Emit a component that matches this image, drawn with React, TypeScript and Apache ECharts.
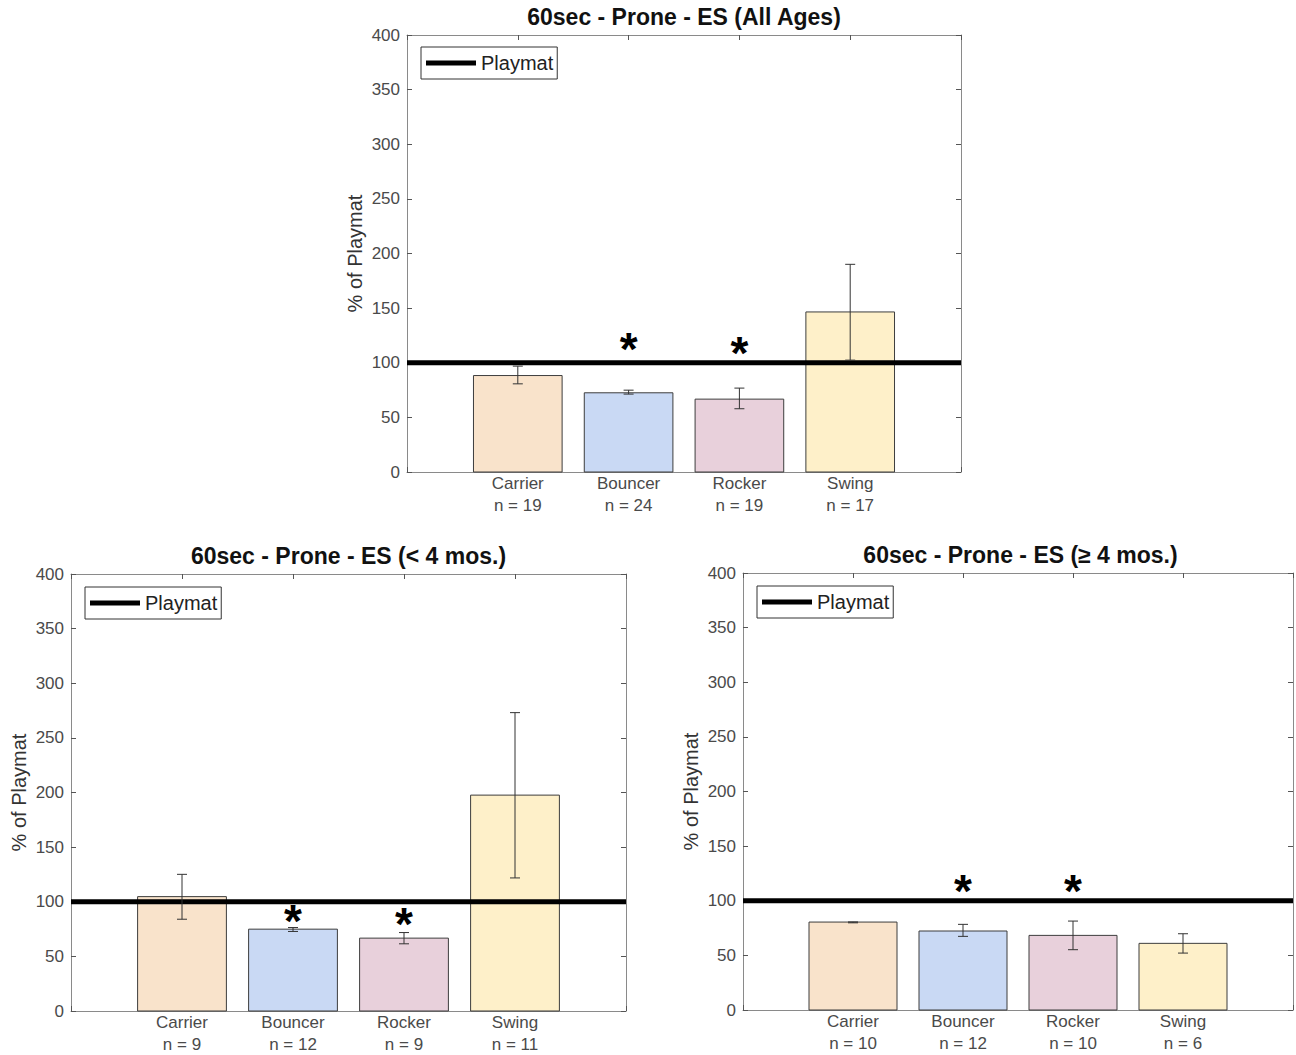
import React, { useEffect, useRef } from "react";
import * as echarts from "echarts";

// ---------- data ----------
const CATEGORIES = ["Carrier", "Bouncer", "Rocker", "Swing"];
const PLAYMAT = 100;
const Y_MIN = 0;
const Y_MAX = 400;
const Y_INTERVAL = 50;

const TITLE_ALL = "60sec - Prone - ES (All Ages)";
const N_ALL = [19, 24, 19, 17];
const MEAN_ALL = [88.3, 72.5, 66.7, 146.5];
const LO_ALL = [80.7, 71.3, 57.9, 102.4];
const HI_ALL = [96.9, 74.9, 76.8, 190.1];
const STAR_CAT_ALL = [2, 3];
const STAR_Y_ALL = [117.9, 114.2];

const TITLE_LT4 = "60sec - Prone - ES (< 4 mos.)";
const N_LT4 = [9, 12, 9, 11];
const MEAN_LT4 = [104.7, 74.9, 66.7, 197.6];
const LO_LT4 = [84.0, 72.8, 61.5, 121.8];
const HI_LT4 = [125.1, 76.4, 71.8, 273.1];
const STAR_CAT_LT4 = [2, 3];
const STAR_Y_LT4 = [87.4, 84.9];

const TITLE_GE4 = "60sec - Prone - ES (\u2265 4 mos.)";
const N_GE4 = [10, 12, 10, 6];
const MEAN_GE4 = [80.5, 72.3, 68.3, 61.0];
const LO_GE4 = [79.8, 67.4, 55.2, 52.1];
const HI_GE4 = [80.6, 78.4, 81.4, 69.8];
const STAR_CAT_GE4 = [2, 3];
const STAR_Y_GE4 = [114.3, 114.3];

// ---------- styles ----------
const COLORS = ["#F9E3CB", "#C9D9F4", "#E8D0DB", "#FEF0C9"];
const FONT = "'Liberation Sans', Arial, Helvetica, sans-serif";
const AXIS_COLOR = "#8a8a8a";
const LABEL_COLOR = "#4a4a4a";
const BAR_HALF = 0.4;
const CAP_PX = 5;
const STAR_FONT = 46;

const PANELS = [
  { title: TITLE_ALL, left: 407, top: 35, width: 554, height: 437, titleTop: 5,
    n: N_ALL, mean: MEAN_ALL, lo: LO_ALL, hi: HI_ALL, starCat: STAR_CAT_ALL, starY: STAR_Y_ALL,
    legendLeft: 421, legendTop: 47 },
  { title: TITLE_LT4, left: 71, top: 574, width: 555, height: 437, titleTop: 544,
    n: N_LT4, mean: MEAN_LT4, lo: LO_LT4, hi: HI_LT4, starCat: STAR_CAT_LT4, starY: STAR_Y_LT4,
    legendLeft: 85, legendTop: 587 },
  { title: TITLE_GE4, left: 743, top: 573, width: 555, height: 437, titleTop: 543,
    n: N_GE4, mean: MEAN_GE4, lo: LO_GE4, hi: HI_GE4, starCat: STAR_CAT_GE4, starY: STAR_Y_GE4,
    legendLeft: 757, legendTop: 586 },
];

function buildOption() {
  const grid: any[] = [];
  const xAxis: any[] = [];
  const yAxis: any[] = [];
  const series: any[] = [];
  const title: any[] = [];
  const legend: any[] = [];

  PANELS.forEach((p, i) => {
    grid.push({ left: p.left, top: p.top, width: p.width, height: p.height, show: false, containLabel: false });
    title.push({
      text: p.title,
      left: p.left + p.width / 2,
      top: p.titleTop,
      textAlign: "center",
      padding: 0,
      textStyle: { fontFamily: FONT, fontSize: 23, fontWeight: "bold", color: "#111" },
    });
    legend.push({
      left: p.legendLeft,
      top: p.legendTop,
      data: ["Playmat"],
      icon: "rect",
      itemWidth: 50,
      itemHeight: 5,
      itemGap: 0,
      padding: [6, 4, 6, 5],
      borderColor: "#333",
      borderWidth: 1,
      borderRadius: 0,
      backgroundColor: "#fff",
      selectedMode: false,
      itemStyle: { color: "#000" },
      textStyle: { fontFamily: FONT, fontSize: 20, color: "#222", lineHeight: 20 },
    });

    const axisLine = { show: true, onZero: false, lineStyle: { color: AXIS_COLOR, width: 1 } };
    const tick = { show: true, inside: true, length: 5, lineStyle: { color: "#555" } };
    // bottom x
    xAxis.push({
      gridIndex: i, type: "value", min: 0, max: CATEGORIES.length + 1, interval: 1, position: "bottom",
      axisLine, axisTick: tick, splitLine: { show: false },
      axisLabel: {
        show: true, margin: 0, fontFamily: FONT, fontSize: 17, color: LABEL_COLOR, lineHeight: 22,
        formatter: (v: number) => (v >= 1 && v <= CATEGORIES.length ? `${CATEGORIES[v - 1]}\nn = ${p.n[v - 1]}` : ""),
      },
    });
    // top x (mirror)
    xAxis.push({
      gridIndex: i, type: "value", min: 0, max: CATEGORIES.length + 1, interval: 1, position: "top",
      axisLine, axisTick: tick, splitLine: { show: false }, axisLabel: { show: false },
    });
    // left y
    yAxis.push({
      gridIndex: i, type: "value", min: Y_MIN, max: Y_MAX, interval: Y_INTERVAL, position: "left",
      axisLine, axisTick: tick, splitLine: { show: false },
      axisLabel: { margin: 7, fontFamily: FONT, fontSize: 17, color: LABEL_COLOR },
      name: "% of Playmat", nameLocation: "middle", nameRotate: 90, nameGap: 42,
      nameTextStyle: { fontFamily: FONT, fontSize: 20, color: "#333" },
    });
    // right y (mirror)
    yAxis.push({
      gridIndex: i, type: "value", min: Y_MIN, max: Y_MAX, interval: Y_INTERVAL, position: "right",
      axisLine, axisTick: tick, splitLine: { show: false }, axisLabel: { show: false },
    });

    const xi = 2 * i;
    const yi = 2 * i;
    series.push({
      type: "custom", name: "bars" + i, xAxisIndex: xi, yAxisIndex: yi, z: 2,
      data: p.mean.map((m, k) => [k + 1, m]),
      encode: { x: 0, y: 1 },
      renderItem: (params: any, api: any) => {
        const x = api.value(0) as number;
        const v = api.value(1) as number;
        const tl = api.coord([x - BAR_HALF, v]);
        const br = api.coord([x + BAR_HALF, Y_MIN]);
        return {
          type: "rect",
          shape: { x: tl[0], y: tl[1], width: br[0] - tl[0], height: br[1] - tl[1] },
          style: { fill: COLORS[params.dataIndex], stroke: "#3d3d3d", lineWidth: 1 },
        };
      },
    });
    series.push({
      type: "line", name: "Playmat", xAxisIndex: xi, yAxisIndex: yi, z: 3,
      data: [[0, PLAYMAT], [CATEGORIES.length + 1, PLAYMAT]],
      symbol: "none", lineStyle: { color: "#000", width: 5 }, itemStyle: { color: "#000" },
    });
    series.push({
      type: "custom", name: "err" + i, xAxisIndex: xi, yAxisIndex: yi, z: 4,
      data: p.lo.map((l, k) => [k + 1, l, p.hi[k]]),
      encode: { x: 0, y: [1, 2] },
      renderItem: (_params: any, api: any) => {
        const x = api.value(0) as number;
        const a = api.coord([x, api.value(1)]);
        const b = api.coord([x, api.value(2)]);
        const st = { stroke: "#333", lineWidth: 1 };
        return {
          type: "group",
          children: [
            { type: "line", shape: { x1: a[0], y1: a[1], x2: b[0], y2: b[1] }, style: st },
            { type: "line", shape: { x1: a[0] - CAP_PX, y1: a[1], x2: a[0] + CAP_PX, y2: a[1] }, style: st },
            { type: "line", shape: { x1: b[0] - CAP_PX, y1: b[1], x2: b[0] + CAP_PX, y2: b[1] }, style: st },
          ],
        };
      },
    });
    series.push({
      type: "custom", name: "stars" + i, xAxisIndex: xi, yAxisIndex: yi, z: 5,
      data: p.starCat.map((c, k) => [c, p.starY[k]]),
      encode: { x: 0, y: 1 },
      renderItem: (_params: any, api: any) => {
        const pt = api.coord([api.value(0), api.value(1)]);
        return {
          type: "text",
          x: pt[0],
          y: pt[1] + STAR_FONT * 0.12,
          style: {
            text: "*", fill: "#000", font: `bold ${STAR_FONT}px ${FONT}`,
            textAlign: "center", textVerticalAlign: "middle",
          },
        };
      },
    });
  });

  return { animation: false, backgroundColor: "#fff", grid, xAxis, yAxis, series, title, legend };
}

export default function App() {
  const ref = useRef<HTMLDivElement>(null);
  useEffect(() => {
    if (!ref.current) return;
    const chart = echarts.init(ref.current, undefined, { renderer: "svg" });
    chart.setOption(buildOption() as any);
    return () => chart.dispose();
  }, []);
  return (
    <div
      ref={ref}
      style={{ position: "absolute", left: 0, top: 0, width: 1296, height: 1055, background: "#fff" }}
    />
  );
}
